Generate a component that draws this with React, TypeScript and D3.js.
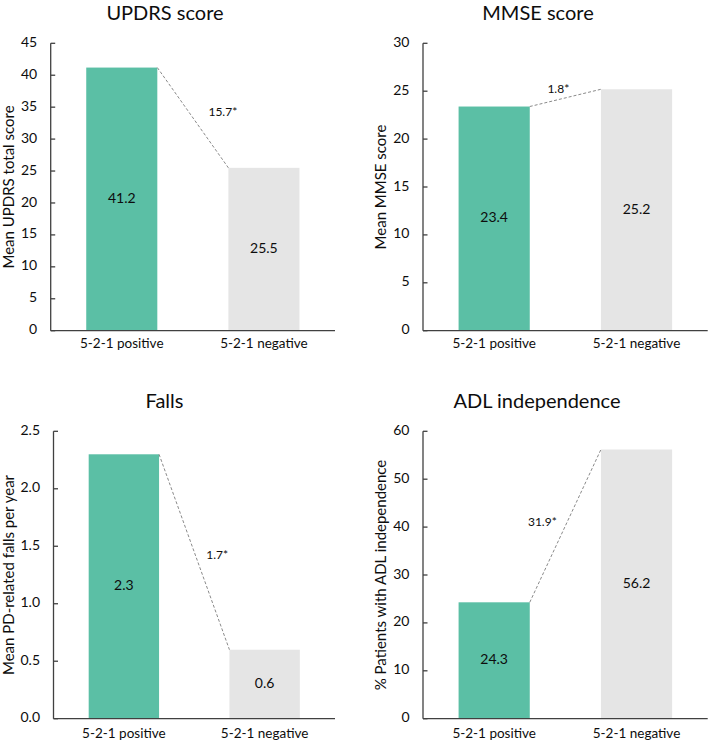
import React from 'react';
import * as d3 from 'd3';

const groups = ['5-2-1 positive', '5-2-1 negative'];

const titles = ['UPDRS score', 'MMSE score', 'Falls', 'ADL independence'];
const yTitles = [
  'Mean UPDRS total score',
  'Mean MMSE score',
  'Mean PD-related falls per year',
  '% Patients with ADL independence',
];

const updrsValues = [41.2, 25.5];
const mmseValues = [23.4, 25.2];
const fallsValues = [2.3, 0.6];
const adlValues = [24.3, 56.2];

const diffLabels = ['15.7*', '1.8*', '1.7*', '31.9*'];

const yMaxes = [45, 30, 2.5, 60];
const yTickSteps = [5, 5, 0.5, 10];
const yTickFormats = ['d', 'd', '.1f', 'd'];
const valueFormats = ['.1f', '.1f', '.1f', '.1f'];

const series = [updrsValues, mmseValues, fallsValues, adlValues];

// panel geometry (pixels)
const layout = [
  { left: 50.7, right: 335, top: 43.3, bottom: 330.7, titleX: 165, yLabelX: 13.5, diffDx: 30, diffDy: -5, xLabDy: 17 },
  { left: 423, right: 707.7, top: 43.3, bottom: 330.7, titleX: 538, yLabelX: 385.5, diffDx: -7, diffDy: -8, xLabDy: 17 },
  { left: 53.5, right: 335, top: 431.3, bottom: 718.7, titleX: 164.5, yLabelX: 13.5, diffDx: 23, diffDy: 3.5, xLabDy: 19 },
  { left: 423, right: 707.7, top: 431.3, bottom: 718.7, titleX: 537, yLabelX: 385.5, diffDx: -23, diffDy: -3, xLabDy: 19 },
];

const colors = ['#5bbfa5', '#e5e5e5'];
const font = 'Lato, Carlito, Calibri, sans-serif';
const axisColor = '#404040';
const ink = '#0d0d0d';

const Panel = ({ i }: { i: number }) => {
  const L = layout[i];
  const values = series[i];
  const x = d3.scaleBand().domain(groups).range([L.left, L.right]).paddingInner(0.5).paddingOuter(0.25);
  const y = d3.scaleLinear().domain([0, yMaxes[i]]).range([L.bottom, L.top]);
  const ticks = d3.range(0, yMaxes[i] + yTickSteps[i] / 2, yTickSteps[i]);
  const tickFmt = d3.format(yTickFormats[i]);
  const valFmt = d3.format(valueFormats[i]);

  const x1 = (x(groups[0]) as number) + x.bandwidth();
  const y1 = y(values[0]);
  const x2 = x(groups[1]) as number;
  const y2 = y(values[1]);
  const midX = (x1 + x2) / 2;
  const midY = (y1 + y2) / 2;

  return (
    <g>
      <text x={L.titleX} y={L.top - 23.5} textAnchor="middle" fontSize={20} fill={ink}>
        {titles[i]}
      </text>

      {groups.map((g, j) => (
        <rect key={g} x={x(g)} y={y(values[j])} width={x.bandwidth()} height={L.bottom - y(values[j])} fill={colors[j]} />
      ))}

      {groups.map((g, j) => (
        <text
          key={g + 'v'}
          x={(x(g) as number) + x.bandwidth() / 2}
          y={(y(values[j]) + L.bottom) / 2}
          textAnchor="middle"
          dominantBaseline="middle"
          fontSize={14}
          fill={ink}
        >
          {valFmt(values[j])}
        </text>
      ))}

      <line x1={x1} y1={y1} x2={x2} y2={y2} stroke="#8a8a8a" strokeWidth={1} strokeDasharray="3,2" />
      <text
        x={midX + L.diffDx}
        y={midY + L.diffDy}
        textAnchor="middle"
        dominantBaseline="middle"
        fontSize={12}
        fill={ink}
      >
        {diffLabels[i]}
      </text>

      {/* y axis */}
      <line x1={L.left} x2={L.left} y1={L.top} y2={L.bottom} stroke={axisColor} strokeWidth={1.3} />
      {ticks.map((t) => (
        <g key={t}>
          <line x1={L.left} x2={L.left + 4.5} y1={y(t)} y2={y(t)} stroke={axisColor} strokeWidth={1.3} />
          <text x={L.left - 13.5} y={y(t)} textAnchor="end" dominantBaseline="middle" fontSize={14} fill={ink}>
            {tickFmt(t)}
          </text>
        </g>
      ))}
      {/* x axis */}
      <line x1={L.left} x2={L.right} y1={L.bottom} y2={L.bottom} stroke={axisColor} strokeWidth={1.3} />
      {groups.map((g) => (
        <text
          key={g + 'x'}
          x={(x(g) as number) + x.bandwidth() / 2}
          y={L.bottom + L.xLabDy}
          textAnchor="middle"
          fontSize={13.5}
          fill={ink}
        >
          {g}
        </text>
      ))}

      <text
        transform={`translate(${L.yLabelX},${(L.top + L.bottom) / 2}) rotate(-90)`}
        textAnchor="middle"
        fontSize={15}
        fill={ink}
      >
        {yTitles[i]}
      </text>
    </g>
  );
};

export default function App() {
  return (
    <div style={{ position: 'absolute', left: 0, top: 0 }}>
      <svg width={712} height={746} style={{ display: 'block', fontFamily: font }}>
        <rect width={712} height={746} fill="#fff" />
        {[0, 1, 2, 3].map((i) => (
          <Panel key={i} i={i} />
        ))}
      </svg>
    </div>
  );
}
